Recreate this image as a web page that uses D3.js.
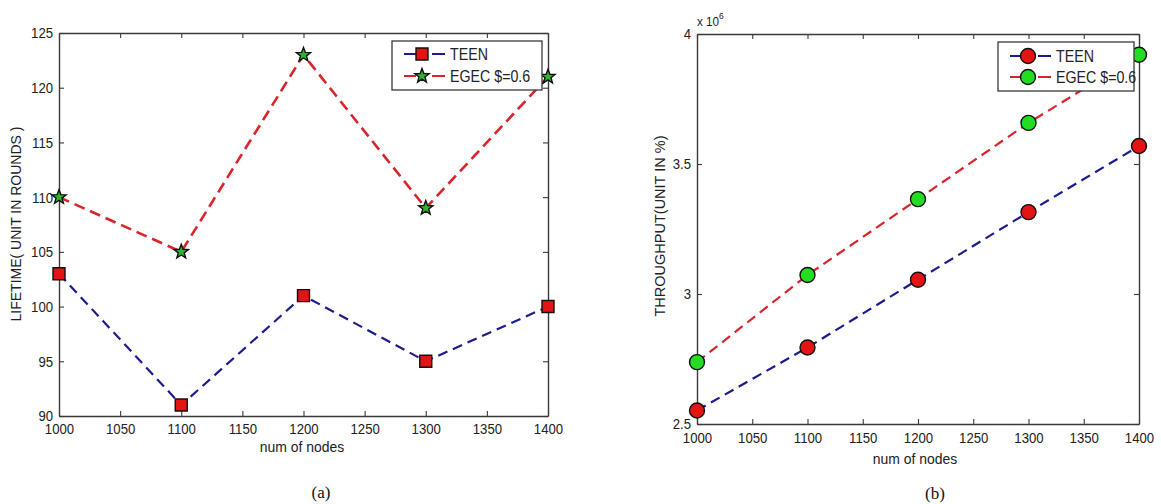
<!DOCTYPE html>
<html><head><meta charset="utf-8">
<script src="https://cdn.jsdelivr.net/npm/d3@7"></script>
<style>
html,body{margin:0;padding:0;background:#fff;}
svg{display:block;}
</style></head>
<body>
<svg id="c" width="1161" height="504"></svg>
<script>
// ---- data ----
const nodes = [1000, 1100, 1200, 1300, 1400];
const xTickVals = [1000, 1050, 1100, 1150, 1200, 1250, 1300, 1350, 1400];
const lifetimeTEEN = [103, 91, 101, 95, 100];
const lifetimeEGEC = [110, 105, 123, 109, 121];
const lifeTicks = [90, 95, 100, 105, 110, 115, 120, 125];
const throughputTEEN = [2.552e6, 2.794e6, 3.055e6, 3.315e6, 3.569e6];
const throughputEGEC = [2.738e6, 3.073e6, 3.365e6, 3.658e6, 3.920e6];
const thrTicks = [2.5e6, 3.0e6, 3.5e6, 4.0e6];
const seriesNames = ["TEEN", "EGEC $=0.6"];
const xLabel = "num of nodes";
const yLabelA = "LIFETIME( UNIT IN ROUNDS )";
const yLabelB = "THROUGHPUT(UNIT IN %)";
const captions = ["(a)", "(b)"];

const svg = d3.select("#c");
const AX = "#3a3a3a";
const BLUE = "#1c1c8e", RED = "#d8242a", REDF = "#e21414", GREENF = "#22dd22";
const FONT = "'Liberation Sans', Arial, Helvetica, sans-serif";
const SX = 0.85;

function starPath(R) {
  const r = R * 0.42; let p = [];
  for (let i = 0; i < 10; i++) {
    const a = -Math.PI / 2 + i * Math.PI / 5;
    const rr = i % 2 === 0 ? R : r;
    p.push([rr * Math.cos(a), rr * Math.sin(a)]);
  }
  return "M" + p.map(d => d.join(",")).join("L") + "Z";
}

function stext(g, x, y, size, sx, str, anchor) {
  return g.append("text").attr("transform", `translate(${x},${y}) scale(${sx},1)`)
    .attr("text-anchor", anchor || "start").attr("dy", "0.36em")
    .attr("font-family", FONT).attr("font-size", size).attr("fill", "#222").text(str);
}

function panel(cfg) {
  const x = d3.scaleLinear().domain([1000, 1400]).range([cfg.x0, cfg.x1]);
  const y = d3.scaleLinear().domain(cfg.ydom).range([cfg.y1, cfg.y0]);
  const g = svg.append("g");

  const b = g.append("g").attr("transform", `translate(0,${cfg.y1})`)
    .call(d3.axisBottom(x).tickValues(xTickVals).tickSizeInner(-5).tickSizeOuter(0).tickPadding(cfg.xpad).tickFormat(d3.format("d")));
  const t = g.append("g").attr("transform", `translate(0,${cfg.y0})`)
    .call(d3.axisTop(x).tickValues(xTickVals).tickSizeInner(-5).tickSizeOuter(0).tickFormat(""));
  const l = g.append("g").attr("transform", `translate(${cfg.x0},0)`)
    .call(d3.axisLeft(y).tickValues(cfg.yticks).tickSizeInner(-5).tickSizeOuter(0).tickPadding(7).tickFormat(cfg.fmtY));
  const r = g.append("g").attr("transform", `translate(${cfg.x1},0)`)
    .call(d3.axisRight(y).tickValues(cfg.yticks).tickSizeInner(-5).tickSizeOuter(0).tickFormat(""));
  [b, t, l, r].forEach(a => {
    a.select(".domain").attr("stroke", AX).attr("stroke-width", 1.4);
    a.selectAll(".tick line").attr("stroke", AX).attr("stroke-width", 1.1);
    a.selectAll("text").attr("font-family", FONT).attr("font-size", 15.5).attr("fill", "#222")
      .attr("transform", `scale(${SX},1)`);
  });

  const line = d3.line().x((d, i) => x(nodes[i])).y(d => y(d));
  cfg.series.forEach(s => {
    g.append("path").datum(s.vals).attr("d", line).attr("fill", "none")
      .attr("stroke", s.color).attr("stroke-width", s.w).attr("stroke-dasharray", s.dash);
  });
  cfg.series.forEach(s => {
    g.selectAll(null).data(s.vals).enter().append("path")
      .attr("transform", (d, i) => `translate(${x(nodes[i])},${y(d)})`)
      .attr("d", s.marker).attr("fill", s.fill).attr("stroke", "#111").attr("stroke-width", 1.4);
  });

  const L = cfg.legend;
  g.append("rect").attr("x", L.x).attr("y", L.y).attr("width", L.w).attr("height", L.h)
    .attr("fill", "#fff").attr("stroke", AX).attr("stroke-width", 1.3);
  cfg.series.forEach((s, i) => {
    const yy = L.y + L.rows[i];
    g.append("line").attr("x1", L.x + 12).attr("x2", L.x + 24).attr("y1", yy).attr("y2", yy)
      .attr("stroke", s.color).attr("stroke-width", 2);
    g.append("line").attr("x1", L.x + 40).attr("x2", L.x + 53).attr("y1", yy).attr("y2", yy)
      .attr("stroke", s.color).attr("stroke-width", 2);
    g.append("path").attr("transform", `translate(${L.x + 30},${yy})`).attr("d", s.marker)
      .attr("fill", s.fill).attr("stroke", "#111").attr("stroke-width", 1.4);
    stext(g, L.x + 58, yy, 16, 0.89, seriesNames[i]);
  });

  stext(g, cfg.xlab[0], cfg.xlab[1], 15, 0.93, xLabel, "middle");
  g.append("text").attr("transform", `translate(${cfg.ylab[0]},${cfg.ylab[1]}) rotate(-90)`)
    .attr("text-anchor", "middle").attr("dy", "0.36em").attr("font-family", FONT)
    .attr("font-size", cfg.ylabSize).attr("fill", "#222").text(cfg.ylabel);
  g.append("text").attr("x", cfg.cap[0]).attr("y", cfg.cap[1]).attr("text-anchor", "middle")
    .attr("dy", "0.36em").attr("font-family", "'Liberation Serif', 'Times New Roman', serif")
    .attr("font-size", 17).attr("fill", "#111").text(cfg.caption);
  return g;
}

const sq = "M-6,-6H6V6H-6Z";
const circ = d3.symbol().type(d3.symbolCircle).size(Math.PI * 7.5 * 7.5)();
const star = starPath(7.5);

panel({
  x0: 59, x1: 548, y0: 33, y1: 416, ydom: [90, 125], yticks: lifeTicks,
  fmtY: d3.format("d"), xpad: 7,
  series: [
    { vals: lifetimeTEEN, color: BLUE, w: 2.2, dash: "10,6", marker: sq, fill: REDF },
    { vals: lifetimeEGEC, color: RED, w: 2.6, dash: "11,6", marker: star, fill: "#2fb52f" }
  ],
  legend: { x: 392, y: 41, w: 150, h: 49, rows: [13, 35] },
  xlab: [302, 447], ylab: [16, 224], ylabSize: 14, ylabel: yLabelA,
  cap: [321, 492], caption: captions[0]
});

const gB = panel({
  x0: 697, x1: 1139, y0: 34, y1: 424, ydom: [2.5e6, 4e6], yticks: thrTicks,
  fmtY: d => d3.format("~g")(d / 1e6), xpad: 8,
  series: [
    { vals: throughputTEEN, color: BLUE, w: 2.2, dash: "10,6", marker: circ, fill: REDF },
    { vals: throughputEGEC, color: RED, w: 2.2, dash: "10,6", marker: circ, fill: GREENF }
  ],
  legend: { x: 998, y: 42, w: 136, h: 49, rows: [14, 35] },
  xlab: [915, 459], ylab: [660, 226], ylabSize: 14.5, ylabel: yLabelB,
  cap: [935, 493], caption: captions[1]
});
const ex = gB.append("text").attr("transform", "translate(697,26) scale(0.9,1)").attr("font-family", FONT)
  .attr("font-size", 13).attr("fill", "#222");
ex.append("tspan").text("x 10");
ex.append("tspan").attr("dy", -7).attr("font-size", 9.5).text("6");
</script>
</body></html>
